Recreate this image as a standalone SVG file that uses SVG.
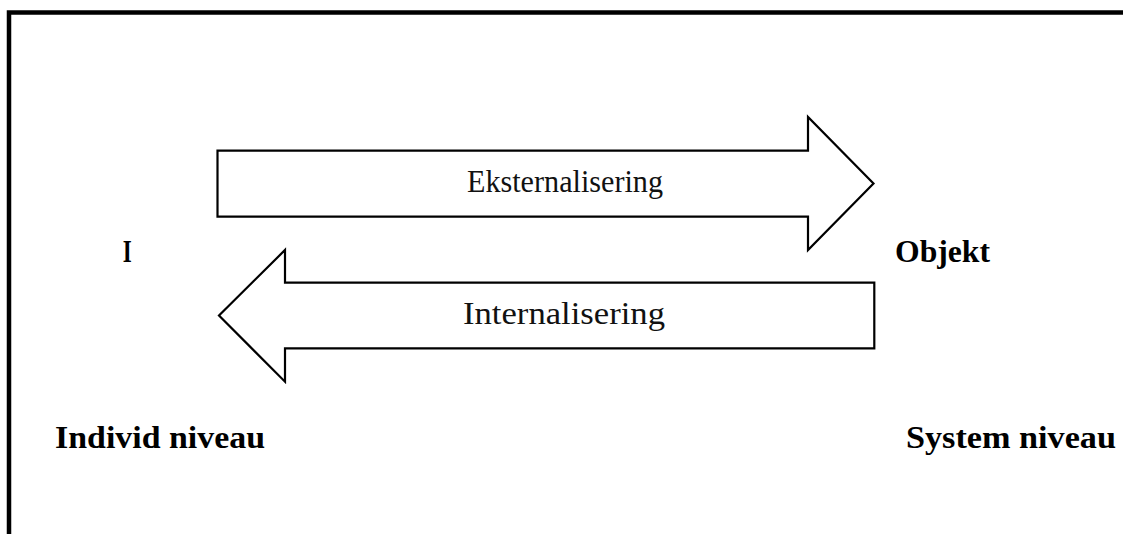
<svg xmlns="http://www.w3.org/2000/svg" width="1123" height="534" viewBox="0 0 1123 534">
<style>
.arrow{fill:#fff;stroke:#000;stroke-width:2.2;stroke-linejoin:miter}
.lbl{font-family:"Liberation Serif","Times New Roman",serif;font-size:31px;fill:#111}
.bold{font-family:"Liberation Serif","Times New Roman",serif;font-size:31px;font-weight:bold;fill:#000}
</style>
<rect width="1123" height="534" fill="#fff"/>
<g id="frame">
<path d="M9,540 V12.5 H1130" fill="none" stroke="#000" stroke-width="4.5"/>
</g>
<g id="connectors">
<g id="eksternalisering">
<path class="arrow" d="M217.5,150.7 H808 V117 L873.5,183.5 L808,250 V216.7 H217.5 Z"/>
<text class="lbl" x="565" y="192.3" text-anchor="middle" textLength="196" lengthAdjust="spacingAndGlyphs">Eksternalisering</text>
</g>
<g id="internalisering">
<path class="arrow" d="M874.3,282.7 H285 V250 L219,315.5 L285,381.7 V348.3 H874.3 Z"/>
<text class="lbl" x="564" y="324.3" text-anchor="middle" textLength="202" lengthAdjust="spacingAndGlyphs">Internalisering</text>
</g>
</g>
<g id="node-I"><text class="bold" x="122.7" y="261.7" textLength="9" lengthAdjust="spacingAndGlyphs">I</text></g>
<g id="node-objekt"><text class="bold" x="895" y="261.7" textLength="95" lengthAdjust="spacingAndGlyphs">Objekt</text></g>
<g id="node-individ"><text class="bold" x="55" y="448" textLength="210" lengthAdjust="spacingAndGlyphs">Individ niveau</text></g>
<g id="node-system"><text class="bold" x="906" y="448" textLength="210" lengthAdjust="spacingAndGlyphs">System niveau</text></g>
</svg>
